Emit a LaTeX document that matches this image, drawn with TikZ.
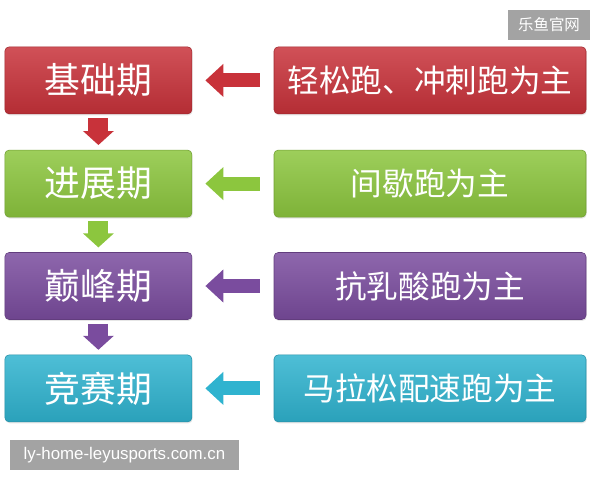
\documentclass[tikz,border=0pt]{standalone}
\usepackage{fontspec}
\newfontfamily\cjk{Noto Sans CJK SC}
\newfontfamily\urlfont{Liberation Sans}
\usetikzlibrary{arrows.meta,shadows}
\definecolor{phasered}{HTML}{C8323A}
\definecolor{phasegreen}{HTML}{8CC63E}
\definecolor{phasepurple}{HTML}{7A4C9E}
\definecolor{phasecyan}{HTML}{2FB3CF}
\definecolor{markgray}{HTML}{A3A3A3}

\begin{document}
\begin{tikzpicture}[
  phase/.style={draw=#1!80!black, rounded corners=3pt, top color=#1!85!white, bottom color=#1!90!black,
    minimum width=4.675cm, minimum height=1.675cm, align=center, text=white, font=\cjk\fontsize{25.5}{28}\selectfont,
    drop shadow={opacity=0.2, shadow xshift=0.5pt, shadow yshift=-1pt}},
  method/.style={phase=#1, minimum width=7.8cm, font=\cjk\fontsize{22.5}{26}\selectfont},
  stamp/.style={fill=markgray, minimum height=0.75cm, inner sep=0pt, text=white},
  feed/.style={draw=#1, line width=0.35cm, -{Triangle[length=0.45cm, width=0.8cm]}, shorten >=0.33cm, shorten <=0.35cm},
  next/.style={draw=#1, line width=0.5cm, -{Triangle[length=0.35cm, width=0.75cm]}, shorten >=0.12cm, shorten <=0.1cm}
]
  \useasboundingbox (0,0) rectangle (15,-12);

  \node[phase=phasered] (base) at (2.46,-2.01) {基础期};
  \node[phase=phasegreen] (build) at (2.46,-4.59) {进展期};
  \node[phase=phasepurple] (peak) at (2.46,-7.15) {巅峰期};
  \node[phase=phasecyan] (race) at (2.46,-9.71) {竞赛期};

  \node[method=phasered] (easy) at (10.75,-2.01) {轻松跑、冲刺跑为主};
  \node[method=phasegreen] (interval) at (10.75,-4.59) {间歇跑为主};
  \node[method=phasepurple] (lactate) at (10.75,-7.15) {抗乳酸跑为主};
  \node[method=phasecyan] (pace) at (10.75,-9.71) {马拉松配速跑为主};

  \draw[feed=phasered] (easy) -- (base);
  \draw[feed=phasegreen] (interval) -- (build);
  \draw[feed=phasepurple] (lactate) -- (peak);
  \draw[feed=phasecyan] (pace) -- (race);

  \draw[next=phasered] (base) -- (build);
  \draw[next=phasegreen] (build) -- (peak);
  \draw[next=phasepurple] (peak) -- (race);

  % watermarks
  \node[stamp, minimum width=2.05cm, font=\cjk\fontsize{11}{13}\selectfont] (site) at (13.725,-0.625) {乐鱼官网};
  \node[stamp, minimum width=5.725cm, font=\urlfont\fontsize{12}{14}\selectfont] (url) at (3.11,-11.375) {ly-home-leyusports.com.cn};
\end{tikzpicture}
\end{document}
